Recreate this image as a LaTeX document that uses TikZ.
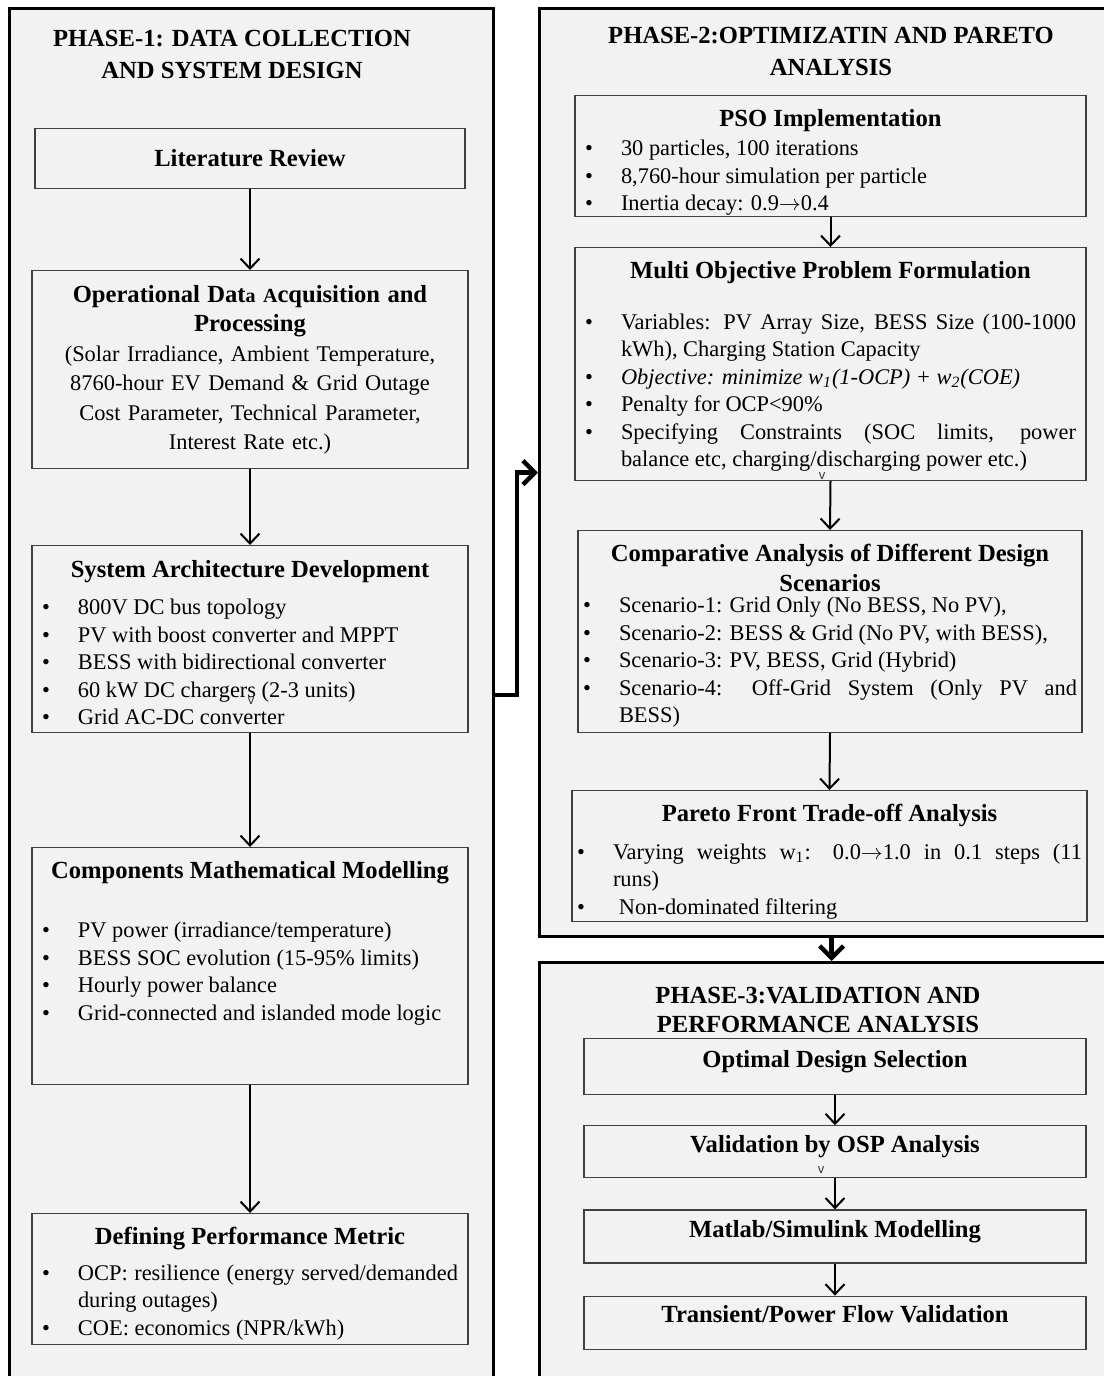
\documentclass[tikz,border=0pt]{standalone}
\usepackage{fontspec}
\setmainfont{Liberation Serif}
\setsansfont{Liberation Sans}
\usetikzlibrary{positioning, arrows.meta}
\definecolor{panelgray}{HTML}{F2F2F2}
\definecolor{boxline}{HTML}{404040}
\newcommand{\bodyfont}{\fontsize{11.2}{13.75}\selectfont}
\newcommand{\headfont}{\fontsize{12.3}{15}\selectfont\bfseries}
\newcommand{\arr}{\ensuremath{\rightarrow}}
\newlength{\bulhang}
\setlength{\bulhang}{18pt}
% optional argument: extra room above the heading
\newcommand{\boxhead}[2][0pt]{{\centering\noindent\headfont\rule{0pt}{\dimexpr 9pt+#1\relax}#2\par}}
\newcommand{\bitem}[1]{\hangindent=\bulhang\hangafter=1\noindent\hbox to \bulhang{\textbullet\hfil}#1\par}
\tikzset{panel/.style={draw, line width=1.6pt, fill=panelgray, inner sep=0pt},
	stepbox/.style={draw=boxline, line width=0.6pt, fill=panelgray, inner sep=0pt, anchor=north, font=\bodyfont},
	listbox/.style={stepbox, align=justify, inner xsep=5pt},
	onelinebox/.style={stepbox, minimum width=251pt, text height=8.5pt, text depth=7.5pt, font=\headfont},
	phasetitle/.style={align=center, font=\fontsize{12.3}{16}\selectfont\bfseries},
	flow/.style={-{Straight Barb[length=5pt,width=9.5pt]}, line width=1pt},
	bigflow/.style={-{Straight Barb[length=6pt,width=12pt]}, line width=2.2pt},
	stray/.style={font=\sffamily\fontsize{6.5}{6.5}\selectfont, inner sep=0pt, text=black!80} }

\begin{document}
\begin{tikzpicture}[x=0.5pt, y=-0.5pt]
  \useasboundingbox (0,0) rectangle (1103,1376);
  \fill[white] (0,0) rectangle (1103,1376);

  % the three phases
  \node (p1) [panel, minimum width=242pt, minimum height=686.5pt, anchor=north west] at (8,7) {};
  \node (p2) [panel, minimum width=292pt, minimum height=464pt, anchor=north west] at (538,7) {};
  \node (p3) [panel, minimum width=292pt, minimum height=220pt, anchor=north west] at (538,961) {};

  \node (t1) [phasetitle] at (232,54) {PHASE-1: DATA COLLECTION\\AND SYSTEM DESIGN};
  \node (t2) [phasetitle] at (831,51) {PHASE-2:OPTIMIZATIN AND PARETO\\ANALYSIS};
  \node (t3) [phasetitle, font=\fontsize{12.3}{14.5}\selectfont\bfseries] at (818,1010) {PHASE-3:VALIDATION AND\\PERFORMANCE ANALYSIS};

  % phase 1
  \node (lit) [stepbox, minimum width=215pt, minimum height=30pt] at (250,128) {\headfont Literature Review};
  \node (opdata) [stepbox, align=center, text width=210pt, minimum width=218pt, minimum height=99pt,
  	font=\fontsize{11.2}{14.75}\selectfont] at (250,270)
  	{{\headfont Operational Dat{\fontsize{10}{12}\selectfont a A}cquisition and\\Processing}\\
  	 (Solar Irradiance, Ambient Temperature,\\8760-hour EV Demand \& Grid Outage\\
  	 Cost Parameter, Technical Parameter,\\Interest Rate etc.)};
  \node (arch) [listbox, text width=208pt, minimum height=93.5pt] at (250,545)
  	{\boxhead[3pt]{System Architecture Development}\vspace{5pt}
  	 \bitem{800V DC bus topology}
  	 \bitem{PV with boost converter and MPPT}
  	 \bitem{BESS with bidirectional converter}
  	 \bitem{60 kW DC chargers (2-3 units)}
  	 \bitem{Grid AC-DC converter}};
  \node (model) [listbox, text width=208pt, minimum height=118.5pt] at (250,847)
  	{\boxhead{Components Mathematical Modelling}\vspace{16pt}
  	 \bitem{PV power (irradiance/temperature)}
  	 \bitem{BESS SOC evolution (15-95\% limits)}
  	 \bitem{Hourly power balance}
  	 \bitem{Grid-connected and islanded mode logic\rule[-26pt]{0pt}{0pt}}};
  \node (metric) [listbox, text width=208pt, minimum height=65.5pt] at (250,1213)
  	{\boxhead[4.5pt]{Defining Performance Metric}\vspace{4pt}
  	 \bitem{OCP: resilience (energy served/demanded\linebreak during outages)}
  	 \bitem{COE: economics (NPR/kWh)}};

  % phase 2
  \node (pso) [listbox, text width=245.5pt, minimum height=60.5pt] at (830.5,95)
  	{\boxhead[6pt]{PSO Implementation}\vspace{1pt}
  	 \bitem{30 particles, 100 iterations}
  	 \bitem{8,760-hour simulation per particle}
  	 \bitem{Inertia decay: 0.9\arr0.4}};
  \node (moo) [listbox, text width=245.5pt, minimum height=116.5pt] at (830.5,247)
  	{\boxhead[2pt]{Multi Objective Problem Formulation}\vspace{11.5pt}
  	 \bitem{Variables: PV Array Size, BESS Size (100-1000\linebreak kWh), Charging Station Capacity}
  	 \bitem{\textit{Objective: minimize w\textsubscript{1}(1-OCP) + w\textsubscript{2}(COE)}}
  	 \bitem{Penalty for OCP<90\%}
  	 \bitem{Specifying Constraints (SOC limits, power\linebreak balance etc, charging/discharging power etc.)}};
  \node (scen) [listbox, inner xsep=2.5pt, text width=247pt, minimum height=101pt] at (830,530)
  	{\boxhead[4pt]{Comparative Analysis of Different Design\\Scenarios}\vspace{-3pt}
  	 \bitem{Scenario-1: Grid Only (No BESS, No PV),}
  	 \bitem{Scenario-2: BESS \& Grid (No PV, with BESS),}
  	 \bitem{Scenario-3: PV, BESS, Grid (Hybrid)}
  	 \bitem{Scenario-4: Off-Grid System (Only PV and\linebreak BESS)}};
  \node (pareto) [listbox, inner xsep=2.5pt, text width=252.5pt, minimum height=65.5pt] at (829.5,790)
  	{\boxhead[5.5pt]{Pareto Front Trade-off Analysis}\vspace{5pt}
  	 \bitem{Varying weights w\textsubscript{1}: 0.0\arr1.0 in 0.1 steps (11\linebreak runs)}
  	 \bitem{\hspace{3pt}Non-dominated filtering}};

  % phase 3
  \node (optimal) [onelinebox, minimum height=28pt] at (835,1038) {Optimal Design Selection};
  \node (osp) [onelinebox, minimum height=26pt, below=15pt of optimal] {Validation by OSP Analysis};
  \node (matlab) [onelinebox, minimum height=26.5pt, below=15.5pt of osp] {Matlab/Simulink Modelling};
  \node (trans) [onelinebox, minimum height=26.5pt, below=16pt of matlab, text depth=9pt] {Transient/Power Flow Validation};

  % stray marks
  \node (v1) [stray] at (251,701) {v};
  \node (v2) [stray] at (822,476) {v};
  \node (v3) [stray] at (821,1170) {v};

  % connectors
  \draw[flow] (lit) -- (opdata);
  \draw[flow] (opdata) -- (arch);
  \draw[flow] (arch) -- (model);
  \draw[flow] (model) -- (metric);
  \draw[flow] (pso) -- (moo);
  \draw[flow] (moo.south) -- (scen.north);
  \draw[flow] (scen.south) -- (pareto.north);
  \draw[flow] (optimal) -- (osp);
  \draw[flow] (osp) -- (matlab);
  \draw[flow] (matlab) -- (trans);
  \draw[bigflow] (p1.east) -- ++(22,0) |- (p2.west);
  \draw[bigflow] (p2.south) -- (p3.north);
\end{tikzpicture}
\end{document}
